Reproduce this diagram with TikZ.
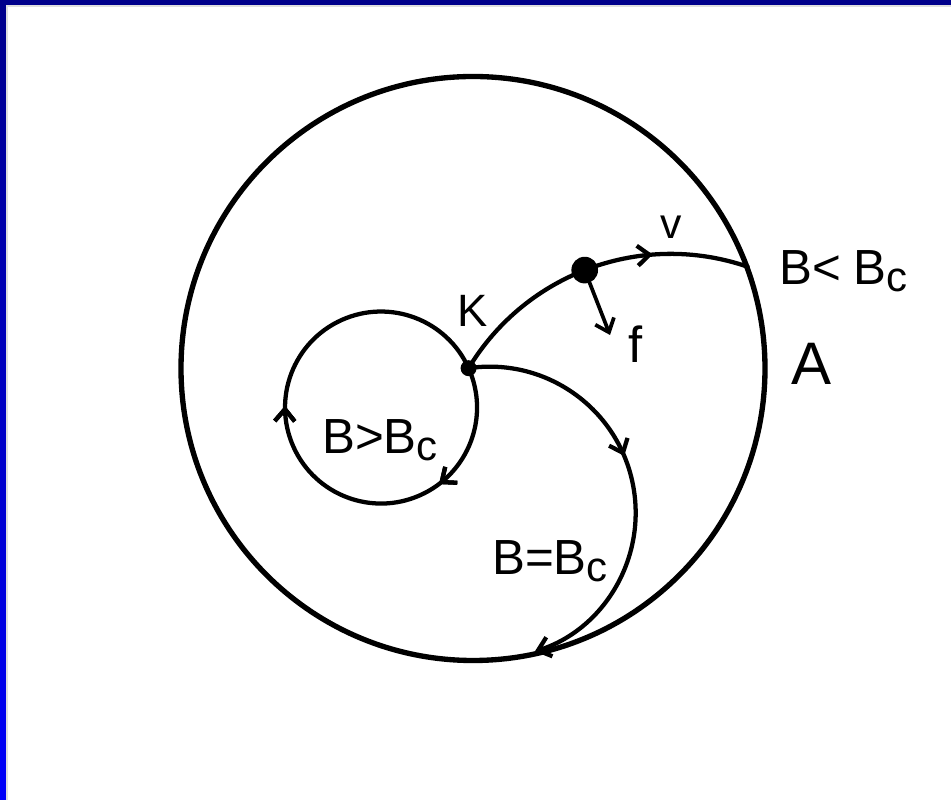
\documentclass[tikz,border=0pt]{standalone}
\usepackage{fontspec}
\setmainfont{Liberation Sans}
\usetikzlibrary{arrows.meta, decorations.markings}
\definecolor{framenavy}{RGB}{0,0,139}
\definecolor{frameblue}{RGB}{0,0,250}
\newcommand{\Bcrit}{B\raisebox{-0.14em}{\scalebox{0.85}{c}}}
\tikzset{
  rim/.style     = {line width=4pt, draw=black},
  orbit/.style   = {line width=3.2pt, draw=black, line cap=round},
  arrowat/.style = {postaction={decorate}, decoration={markings, mark=at position #1 with {\arrow{>}}}},
  dot/.style     = {circle, fill=black, inner sep=0pt, minimum size=#1},
  lbl/.style     = {inner sep=0pt, anchor=base west, font=\fontsize{37}{40}\selectfont},
  >={Straight Barb[length=9pt, width=15pt]},
}

\begin{document}
\begin{tikzpicture}[x=0.75pt, y=0.75pt]
    \useasboundingbox (0,0) rectangle (951,800);
    % slide frame
    \fill[white] (0,0) rectangle (951,800);
    \shade[top color=framenavy, bottom color=frameblue] (0,0) rectangle (6,800);
    \fill[framenavy] (0,795) rectangle (951,800);
    \draw[gray!25, line width=1pt] (7,0) -- (7,794) -- (951,794);

    % boundary A
    \coordinate (O) at (473,431.5);
    \draw[rim] (O) circle[radius=292];

    % start point K and particle
    \node[dot=12pt] (K) at (468.6,431.8) {};
    \node[dot=20pt] (P) at (584.7,529.9) {};
    \coordinate (ftip) at (610,465);

    % B > Bc : closed orbit
    \draw[orbit, arrowat=0.214, arrowat=0.57] (K.center) arc[start angle=24.2, end angle=-335.8, radius=96];

    % B < Bc : escapes to A
    \draw[orbit, arrowat=0.7] (K.center) arc[start angle=148.96, end angle=71, radius=236];

    % B = Bc : grazes A
    \draw[orbit, arrowat=0.443, ->] (K.center) arc[start angle=98.3, end angle=-72, radius=146];

    % force on the particle
    \draw[orbit, line width=2.8pt, ->] (P) -- (ftip);

    % labels
    \node[lbl, font=\fontsize{32}{36}\selectfont] (vlbl) at (660,561) {v};
    \node[lbl, font=\fontsize{38}{40}\selectfont] (flbl) at (628,437) {f};
    \node[lbl, font=\fontsize{34}{36}\selectfont] (Klbl) at (457,473) {K};
    \node[lbl] (less) at (779,515) {B<\hspace{0.25em}\Bcrit};
    \node[lbl, font=\fontsize{45}{48}\selectfont] (Albl) at (791,415) {A};
    \node[lbl] (greater) at (322,346) {B>\Bcrit};
    \node[lbl] (equal) at (492,225) {B=\Bcrit};
  \end{tikzpicture}
\end{document}
